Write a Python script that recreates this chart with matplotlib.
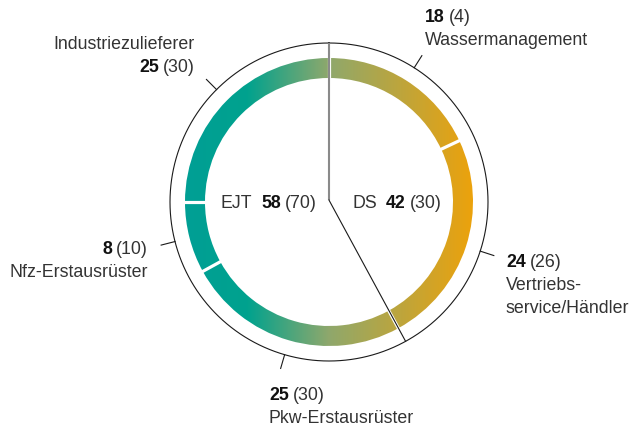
import numpy as np
import matplotlib
matplotlib.use('Agg')
import matplotlib.pyplot as plt
from matplotlib.colors import LinearSegmentedColormap

# data: share in % (previous year in brackets)
segments = ['Wassermanagement', 'Vertriebs-\nservice/Händler', 'Pkw-Erstausrüster',
            'Nfz-Erstausrüster', 'Industriezulieferer']
share = [18, 24, 25, 8, 25]
share_prev = [4, 26, 30, 10, 30]
divisions = ['DS', 'EJT']
div_share = [42, 58]
div_prev = [30, 70]
div_n_segments = [2, 3]

plt.rcParams['font.family'] = ['Liberation Sans', 'DejaVu Sans']
plt.rcParams['font.size'] = 12.8
TXT = '#333333'

# layout in pixels
W, H = 635, 427
cx, cy, R = 329, 203, 159.0
LINE = 23


def P(px, py):
    return (px - cx) / R, (cy - py) / R


fig = plt.figure(figsize=(W / 100, H / 100), dpi=100)
ax = fig.add_axes([0, 0, 1, 1])

r_out, r_in = 144 / R, 124 / R
wedges, _ = ax.pie(share, startangle=90, counterclock=False, radius=r_out,
                   wedgeprops=dict(width=r_out - r_in, facecolor='none', edgecolor='none'))

# horizontal colour gradient teal -> orange
cmap = LinearSegmentedColormap.from_list(
    'ring', [(0, '#009F95'), (0.215, '#00A28E'), (0.5, '#8FA86C'), (1, '#ECA20C')])
grad = np.linspace(0, 1, 512).reshape(1, -1)
for w in wedges:
    im = ax.imshow(grad, cmap=cmap, extent=(-r_out, r_out, -r_out, r_out),
                   aspect='auto', interpolation='bilinear', zorder=1)
    im.set_clip_path(w)

total = sum(share)
bounds = np.cumsum([0] + share) / total * 360.0  # clockwise from top
mids = (bounds[:-1] + bounds[1:]) / 2


def pol(r, deg):
    a = np.deg2rad(deg)
    return r * np.sin(a), r * np.cos(a)


# white gaps between segments
for b in bounds[:-1]:
    x0, y0 = pol(r_in - 0.02, b)
    x1, y1 = pol(r_out + 0.02, b)
    ax.plot([x0, x1], [y0, y1], color='white', lw=2.3, zorder=2, solid_capstyle='butt')

# outer circle
t = np.linspace(0, 360, 721)
ox, oy = pol(1.0, t)
ax.plot(ox, oy, color='#1a1a1a', lw=0.8, zorder=3)

# division lines
c0 = (0, 0.012)
tx, ty = pol(1.0, bounds[0])
ax.plot([c0[0], tx], [c0[1], ty], color='#8a8a8a', lw=1.5, zorder=4, solid_capstyle='butt')
split = bounds[div_n_segments[0]]
dx, dy = pol(1.0, split)
ax.plot([c0[0], dx], [c0[1], dy], color='#1a1a1a', lw=0.8, zorder=4)

# ticks at segment midpoints
for m in mids:
    x0, y0 = pol(1.0, m)
    x1, y1 = pol(1.09, m)
    ax.plot([x0, x1], [y0, y1], color='#1a1a1a', lw=0.8, zorder=3)


def value_line(x, y, num, prev, ha):
    if ha == 'left':
        t1 = ax.text(x, y, str(num), weight='bold', ha='left', va='baseline', color='#111111')
        ax.annotate(f'({prev})', xy=(1, 0), xycoords=t1, xytext=(4, 0),
                    textcoords='offset pixels', ha='left', va='bottom', color=TXT)
    else:
        t2 = ax.text(x, y, f'({prev})', ha='right', va='baseline', color=TXT)
        ax.annotate(str(num), xy=(0, 0), xycoords=t2, xytext=(-4, 0),
                    textcoords='offset pixels', ha='right', va='bottom',
                    weight='bold', color='#111111')


# label anchors: (x px, first baseline px, alignment, name first?)
label_pos = [(425, 22, 'left', False), (506, 267, 'left', False), (269, 400, 'left', False),
             (148, 254, 'right', False), (195, 49, 'right', True)]

for name, v, pv, (lx, ly, ha, name_first) in zip(segments, share, share_prev, label_pos):
    lines = name.split('\n')
    if name_first:
        for k, ln in enumerate(lines):
            ax.text(*P(lx, ly + k * LINE), ln, ha=ha, va='baseline', color=TXT)
        value_line(*P(lx, ly + len(lines) * LINE), v, pv, ha)
    else:
        value_line(*P(lx, ly), v, pv, ha)
        for k, ln in enumerate(lines):
            ax.text(*P(lx, ly + (k + 1) * LINE), ln, ha=ha, va='baseline', color=TXT)

# division labels in the centre
div_pos = [(352, 208), (221, 208)]
for d, v, pv, (lx, ly) in zip(divisions, div_share, div_prev, div_pos):
    t0 = ax.text(*P(lx, ly), d, ha='left', va='baseline', color=TXT)
    t1 = ax.annotate(str(v), xy=(1, 0), xycoords=t0, xytext=(9, 0),
                     textcoords='offset pixels', ha='left', va='bottom',
                     weight='bold', color='#111111')
    ax.annotate(f'({pv})', xy=(1, 0), xycoords=t1, xytext=(4, 0),
                textcoords='offset pixels', ha='left', va='bottom', color=TXT)

ax.set_xlim(-cx / R, (W - cx) / R)
ax.set_ylim(-(H - cy) / R, cy / R)
ax.set_aspect('equal')
ax.axis('off')

plt.savefig('out.png', dpi=100)
